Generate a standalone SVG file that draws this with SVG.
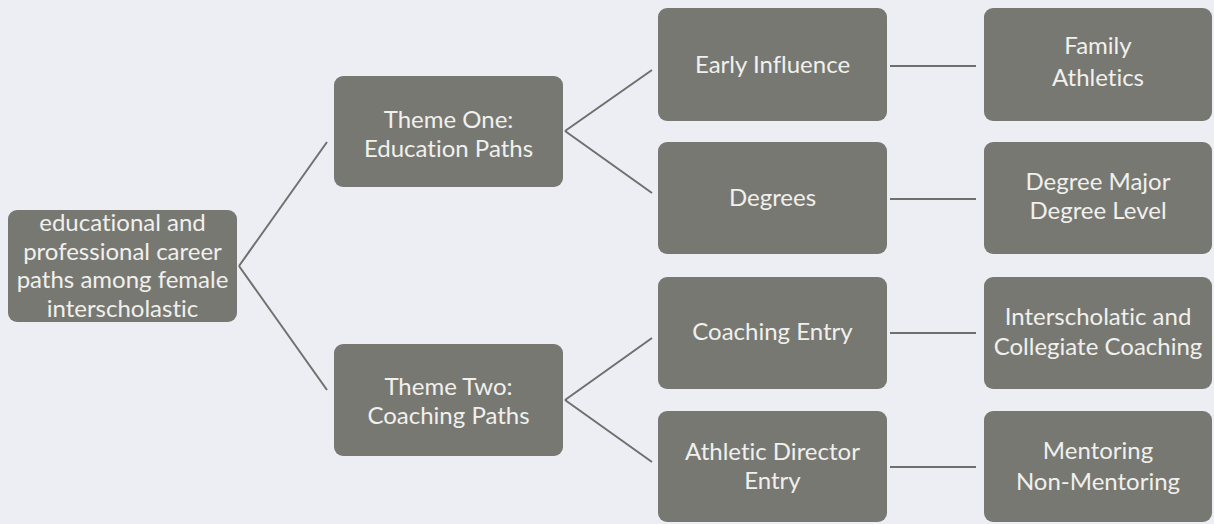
<svg xmlns="http://www.w3.org/2000/svg" width="1214" height="524" viewBox="0 0 1214 524">
<style>
.bg{fill:#eceef3}
.box{fill:#787873}
.t{font-family:Lato,"Liberation Sans",sans-serif;font-size:24px;fill:#f0f0ec;text-anchor:middle;font-variant-ligatures:none;font-feature-settings:"liga" 0,"clig" 0}
.ln{stroke:#6f6f6d;stroke-width:2;fill:none}
</style>
<rect class="bg" x="0" y="0" width="1214" height="524"/>
<g id="connectors">
<line class="ln" x1="239" y1="266" x2="327" y2="142"/>
<line class="ln" x1="239" y1="266" x2="327" y2="390"/>
<line class="ln" x1="565" y1="131" x2="652" y2="70"/>
<line class="ln" x1="565" y1="131" x2="652" y2="193"/>
<line class="ln" x1="565" y1="400" x2="652" y2="338"/>
<line class="ln" x1="565" y1="400" x2="652" y2="462"/>
<line class="ln" x1="890" y1="66" x2="976" y2="66"/>
<line class="ln" x1="890" y1="199" x2="976" y2="199"/>
<line class="ln" x1="890" y1="333" x2="976" y2="333"/>
<line class="ln" x1="890" y1="467" x2="976" y2="467"/>
</g>
<g id="root">
<rect class="box" x="8" y="210" width="229" height="112" rx="9"/>
<text class="t" x="122.5" y="231">educational and</text>
<text class="t" x="122.5" y="259.5">professional career</text>
<text class="t" x="122.5" y="288">paths among female</text>
<text class="t" x="122.5" y="316.5">interscholastic</text>
</g>
<g id="theme-one">
<rect class="box" x="334" y="76" width="229" height="111" rx="9"/>
<text class="t" x="448.5" y="128">Theme One:</text>
<text class="t" x="448.5" y="157">Education Paths</text>
</g>
<g id="theme-two">
<rect class="box" x="334" y="344" width="229" height="112" rx="9"/>
<text class="t" x="448.5" y="395">Theme Two:</text>
<text class="t" x="448.5" y="424">Coaching Paths</text>
</g>
<g id="early-influence">
<rect class="box" x="658" y="8" width="229" height="113" rx="9"/>
<text class="t" x="772.5" y="73">Early Influence</text>
</g>
<g id="degrees">
<rect class="box" x="658" y="142" width="229" height="112" rx="9"/>
<text class="t" x="772.5" y="206">Degrees</text>
</g>
<g id="coaching-entry">
<rect class="box" x="658" y="277" width="229" height="112" rx="9"/>
<text class="t" x="772.5" y="340">Coaching Entry</text>
</g>
<g id="athletic-director-entry">
<rect class="box" x="658" y="411" width="229" height="111" rx="9"/>
<text class="t" x="772.5" y="460">Athletic Director</text>
<text class="t" x="772.5" y="489">Entry</text>
</g>
<g id="family-athletics">
<rect class="box" x="984" y="8" width="228" height="113" rx="9"/>
<text class="t" x="1098" y="54">Family</text>
<text class="t" x="1098" y="86">Athletics</text>
</g>
<g id="degree-major-level">
<rect class="box" x="984" y="142" width="228" height="112" rx="9"/>
<text class="t" x="1098" y="190">Degree Major</text>
<text class="t" x="1098" y="219">Degree Level</text>
</g>
<g id="interscholastic-collegiate">
<rect class="box" x="984" y="277" width="228" height="112" rx="9"/>
<text class="t" x="1098" y="325">Interscholatic and</text>
<text class="t" x="1098" y="355">Collegiate Coaching</text>
</g>
<g id="mentoring">
<rect class="box" x="984" y="411" width="228" height="111" rx="9"/>
<text class="t" x="1098" y="459">Mentoring</text>
<text class="t" x="1098" y="490">Non-Mentoring</text>
</g>
</svg>
